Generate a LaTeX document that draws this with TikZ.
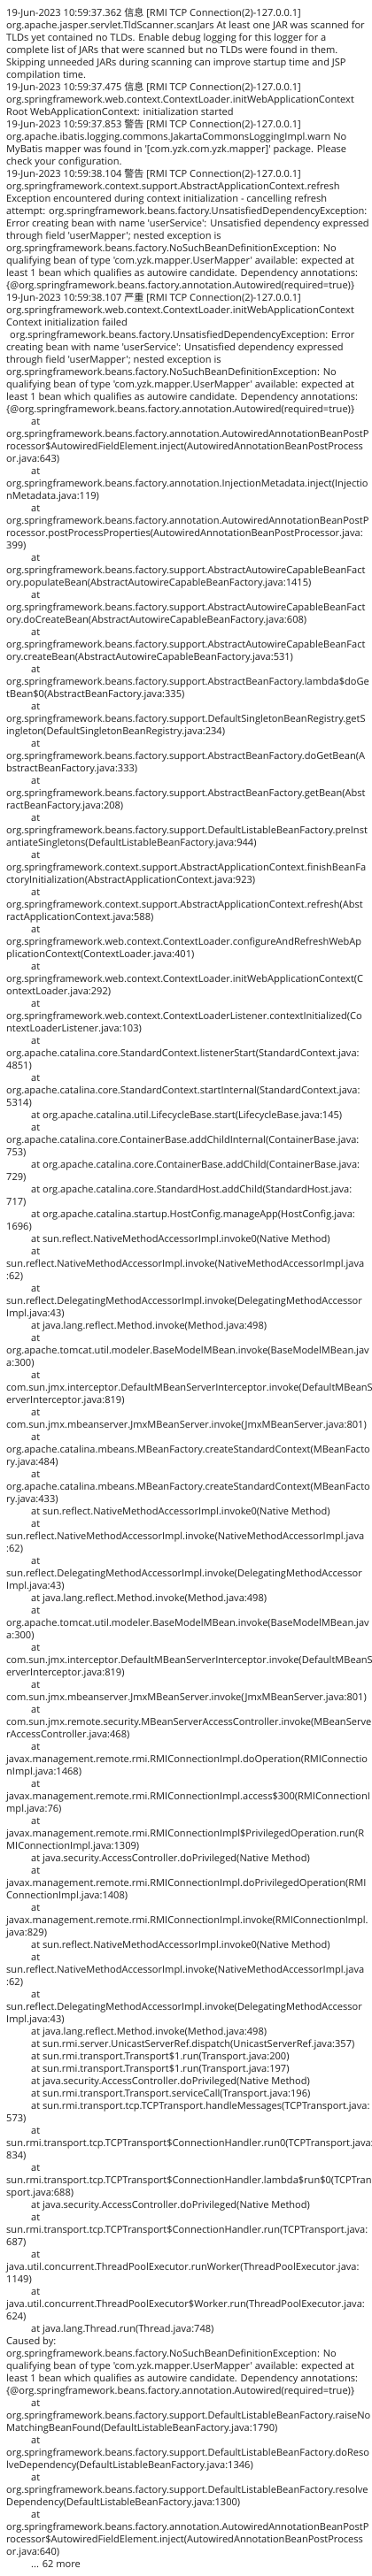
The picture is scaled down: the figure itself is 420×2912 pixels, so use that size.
\documentclass[tikz,border=0pt]{standalone}
\usepackage{fontspec}
\newfontfamily\logfont{Open Sans}
\newfontfamily\cjk{Noto Sans CJK SC}
\definecolor{logtext}{RGB}{30,30,30}
\newlength\reflen
\settowidth\reflen{\logfont\fontsize{10}{12}\selectfont org.springframework.web.context.ContextLoader.initWebApplicationContext}
\ifdim\reflen<1pt \setlength\reflen{380pt}\fi
\pgfmathsetmacro\logfs{10*392.7/\reflen}
\newcounter{logln}
\newcommand\LL[2]{\stepcounter{logln}\edef\lname{l\arabic{logln}}%
  \node[logline] (\lname) at (#1,{18.5+14*(\arabic{logln}-1)}) {#2};}
\tikzset{logline/.style={anchor=base west,inner sep=0pt,text=logtext,
  font=\logfont\fontsize{\logfs}{14}\selectfont}}
\begin{document}
\begin{tikzpicture}[x=1pt,y=-1pt]
\fill[white] (0,0) rectangle (420,2912);
\useasboundingbox (0,0) rectangle (420,2912);
\LL{7}{19-Jun-2023 10:59:37.362 {\cjk 信息} [RMI TCP Connection(2)-127.0.0.1]}
\LL{7}{org.apache.jasper.servlet.TldScanner.scanJars At least one JAR was scanned for}
\LL{7}{TLDs yet contained no TLDs. Enable debug logging for this logger for a}
\LL{7}{complete list of JARs that were scanned but no TLDs were found in them.}
\LL{7}{Skipping unneeded JARs during scanning can improve startup time and JSP}
\LL{7}{compilation time.}
\LL{7}{19-Jun-2023 10:59:37.475 {\cjk 信息} [RMI TCP Connection(2)-127.0.0.1]}
\LL{7}{org.springframework.web.context.ContextLoader.initWebApplicationContext}
\LL{7}{Root WebApplicationContext: initialization started}
\LL{7}{19-Jun-2023 10:59:37.853 {\cjk 警告} [RMI TCP Connection(2)-127.0.0.1]}
\LL{7}{org.apache.ibatis.logging.commons.JakartaCommonsLoggingImpl.warn No}
\LL{7}{MyBatis mapper was found in '[com.yzk.com.yzk.mapper]' package. Please}
\LL{7}{check your configuration.}
\LL{7}{19-Jun-2023 10:59:38.104 {\cjk 警告} [RMI TCP Connection(2)-127.0.0.1]}
\LL{7}{org.springframework.context.support.AbstractApplicationContext.refresh}
\LL{7}{Exception encountered during context initialization - cancelling refresh}
\LL{7}{attempt: org.springframework.beans.factory.UnsatisfiedDependencyException:}
\LL{7}{Error creating bean with name 'userService': Unsatisfied dependency expressed}
\LL{7}{through field 'userMapper'; nested exception is}
\LL{7}{org.springframework.beans.factory.NoSuchBeanDefinitionException: No}
\LL{7}{qualifying bean of type 'com.yzk.mapper.UserMapper' available: expected at}
\LL{7}{least 1 bean which qualifies as autowire candidate. Dependency annotations:}
\LL{7}{\{@org.springframework.beans.factory.annotation.Autowired(required=true)\}}
\LL{7}{19-Jun-2023 10:59:38.107 {\cjk 严重} [RMI TCP Connection(2)-127.0.0.1]}
\LL{7}{org.springframework.web.context.ContextLoader.initWebApplicationContext}
\LL{7}{Context initialization failed}
\LL{11}{org.springframework.beans.factory.UnsatisfiedDependencyException: Error}
\LL{7}{creating bean with name 'userService': Unsatisfied dependency expressed}
\LL{7}{through field 'userMapper'; nested exception is}
\LL{7}{org.springframework.beans.factory.NoSuchBeanDefinitionException: No}
\LL{7}{qualifying bean of type 'com.yzk.mapper.UserMapper' available: expected at}
\LL{7}{least 1 bean which qualifies as autowire candidate. Dependency annotations:}
\LL{7}{\{@org.springframework.beans.factory.annotation.Autowired(required=true)\}}
\LL{35}{at}
\LL{7}{org.springframework.beans.factory.annotation.AutowiredAnnotationBeanPostP}
\LL{7}{rocessor\$AutowiredFieldElement.inject(AutowiredAnnotationBeanPostProcess}
\LL{7}{or.java:643)}
\LL{35}{at}
\LL{7}{org.springframework.beans.factory.annotation.InjectionMetadata.inject(Injectio}
\LL{7}{nMetadata.java:119)}
\LL{35}{at}
\LL{7}{org.springframework.beans.factory.annotation.AutowiredAnnotationBeanPostP}
\LL{7}{rocessor.postProcessProperties(AutowiredAnnotationBeanPostProcessor.java:}
\LL{7}{399)}
\LL{35}{at}
\LL{7}{org.springframework.beans.factory.support.AbstractAutowireCapableBeanFact}
\LL{7}{ory.populateBean(AbstractAutowireCapableBeanFactory.java:1415)}
\LL{35}{at}
\LL{7}{org.springframework.beans.factory.support.AbstractAutowireCapableBeanFact}
\LL{7}{ory.doCreateBean(AbstractAutowireCapableBeanFactory.java:608)}
\LL{35}{at}
\LL{7}{org.springframework.beans.factory.support.AbstractAutowireCapableBeanFact}
\LL{7}{ory.createBean(AbstractAutowireCapableBeanFactory.java:531)}
\LL{35}{at}
\LL{7}{org.springframework.beans.factory.support.AbstractBeanFactory.lambda\$doGe}
\LL{7}{tBean\$0(AbstractBeanFactory.java:335)}
\LL{35}{at}
\LL{7}{org.springframework.beans.factory.support.DefaultSingletonBeanRegistry.getS}
\LL{7}{ingleton(DefaultSingletonBeanRegistry.java:234)}
\LL{35}{at}
\LL{7}{org.springframework.beans.factory.support.AbstractBeanFactory.doGetBean(A}
\LL{7}{bstractBeanFactory.java:333)}
\LL{35}{at}
\LL{7}{org.springframework.beans.factory.support.AbstractBeanFactory.getBean(Abst}
\LL{7}{ractBeanFactory.java:208)}
\LL{35}{at}
\LL{7}{org.springframework.beans.factory.support.DefaultListableBeanFactory.preInst}
\LL{7}{antiateSingletons(DefaultListableBeanFactory.java:944)}
\LL{35}{at}
\LL{7}{org.springframework.context.support.AbstractApplicationContext.finishBeanFa}
\LL{7}{ctoryInitialization(AbstractApplicationContext.java:923)}
\LL{35}{at}
\LL{7}{org.springframework.context.support.AbstractApplicationContext.refresh(Abst}
\LL{7}{ractApplicationContext.java:588)}
\LL{35}{at}
\LL{7}{org.springframework.web.context.ContextLoader.configureAndRefreshWebAp}
\LL{7}{plicationContext(ContextLoader.java:401)}
\LL{35}{at}
\LL{7}{org.springframework.web.context.ContextLoader.initWebApplicationContext(C}
\LL{7}{ontextLoader.java:292)}
\LL{35}{at}
\LL{7}{org.springframework.web.context.ContextLoaderListener.contextInitialized(Co}
\LL{7}{ntextLoaderListener.java:103)}
\LL{35}{at}
\LL{7}{org.apache.catalina.core.StandardContext.listenerStart(StandardContext.java:}
\LL{7}{4851)}
\LL{35}{at}
\LL{7}{org.apache.catalina.core.StandardContext.startInternal(StandardContext.java:}
\LL{7}{5314)}
\LL{35}{at org.apache.catalina.util.LifecycleBase.start(LifecycleBase.java:145)}
\LL{35}{at}
\LL{7}{org.apache.catalina.core.ContainerBase.addChildInternal(ContainerBase.java:}
\LL{7}{753)}
\LL{35}{at org.apache.catalina.core.ContainerBase.addChild(ContainerBase.java:}
\LL{7}{729)}
\LL{35}{at org.apache.catalina.core.StandardHost.addChild(StandardHost.java:}
\LL{7}{717)}
\LL{35}{at org.apache.catalina.startup.HostConfig.manageApp(HostConfig.java:}
\LL{7}{1696)}
\LL{35}{at sun.reflect.NativeMethodAccessorImpl.invoke0(Native Method)}
\LL{35}{at}
\LL{7}{sun.reflect.NativeMethodAccessorImpl.invoke(NativeMethodAccessorImpl.java}
\LL{7}{:62)}
\LL{35}{at}
\LL{7}{sun.reflect.DelegatingMethodAccessorImpl.invoke(DelegatingMethodAccessor}
\LL{7}{Impl.java:43)}
\LL{35}{at java.lang.reflect.Method.invoke(Method.java:498)}
\LL{35}{at}
\LL{7}{org.apache.tomcat.util.modeler.BaseModelMBean.invoke(BaseModelMBean.jav}
\LL{7}{a:300)}
\LL{35}{at}
\LL{7}{com.sun.jmx.interceptor.DefaultMBeanServerInterceptor.invoke(DefaultMBeanS}
\LL{7}{erverInterceptor.java:819)}
\LL{35}{at}
\LL{7}{com.sun.jmx.mbeanserver.JmxMBeanServer.invoke(JmxMBeanServer.java:801)}
\LL{35}{at}
\LL{7}{org.apache.catalina.mbeans.MBeanFactory.createStandardContext(MBeanFacto}
\LL{7}{ry.java:484)}
\LL{35}{at}
\LL{7}{org.apache.catalina.mbeans.MBeanFactory.createStandardContext(MBeanFacto}
\LL{7}{ry.java:433)}
\LL{35}{at sun.reflect.NativeMethodAccessorImpl.invoke0(Native Method)}
\LL{35}{at}
\LL{7}{sun.reflect.NativeMethodAccessorImpl.invoke(NativeMethodAccessorImpl.java}
\LL{7}{:62)}
\LL{35}{at}
\LL{7}{sun.reflect.DelegatingMethodAccessorImpl.invoke(DelegatingMethodAccessor}
\LL{7}{Impl.java:43)}
\LL{35}{at java.lang.reflect.Method.invoke(Method.java:498)}
\LL{35}{at}
\LL{7}{org.apache.tomcat.util.modeler.BaseModelMBean.invoke(BaseModelMBean.jav}
\LL{7}{a:300)}
\LL{35}{at}
\LL{7}{com.sun.jmx.interceptor.DefaultMBeanServerInterceptor.invoke(DefaultMBeanS}
\LL{7}{erverInterceptor.java:819)}
\LL{35}{at}
\LL{7}{com.sun.jmx.mbeanserver.JmxMBeanServer.invoke(JmxMBeanServer.java:801)}
\LL{35}{at}
\LL{7}{com.sun.jmx.remote.security.MBeanServerAccessController.invoke(MBeanServe}
\LL{7}{rAccessController.java:468)}
\LL{35}{at}
\LL{7}{javax.management.remote.rmi.RMIConnectionImpl.doOperation(RMIConnectio}
\LL{7}{nImpl.java:1468)}
\LL{35}{at}
\LL{7}{javax.management.remote.rmi.RMIConnectionImpl.access\$300(RMIConnectionI}
\LL{7}{mpl.java:76)}
\LL{35}{at}
\LL{7}{javax.management.remote.rmi.RMIConnectionImpl\$PrivilegedOperation.run(R}
\LL{7}{MIConnectionImpl.java:1309)}
\LL{35}{at java.security.AccessController.doPrivileged(Native Method)}
\LL{35}{at}
\LL{7}{javax.management.remote.rmi.RMIConnectionImpl.doPrivilegedOperation(RMI}
\LL{7}{ConnectionImpl.java:1408)}
\LL{35}{at}
\LL{7}{javax.management.remote.rmi.RMIConnectionImpl.invoke(RMIConnectionImpl.}
\LL{7}{java:829)}
\LL{35}{at sun.reflect.NativeMethodAccessorImpl.invoke0(Native Method)}
\LL{35}{at}
\LL{7}{sun.reflect.NativeMethodAccessorImpl.invoke(NativeMethodAccessorImpl.java}
\LL{7}{:62)}
\LL{35}{at}
\LL{7}{sun.reflect.DelegatingMethodAccessorImpl.invoke(DelegatingMethodAccessor}
\LL{7}{Impl.java:43)}
\LL{35}{at java.lang.reflect.Method.invoke(Method.java:498)}
\LL{35}{at sun.rmi.server.UnicastServerRef.dispatch(UnicastServerRef.java:357)}
\LL{35}{at sun.rmi.transport.Transport\$1.run(Transport.java:200)}
\LL{35}{at sun.rmi.transport.Transport\$1.run(Transport.java:197)}
\LL{35}{at java.security.AccessController.doPrivileged(Native Method)}
\LL{35}{at sun.rmi.transport.Transport.serviceCall(Transport.java:196)}
\LL{35}{at sun.rmi.transport.tcp.TCPTransport.handleMessages(TCPTransport.java:}
\LL{7}{573)}
\LL{35}{at}
\LL{7}{sun.rmi.transport.tcp.TCPTransport\$ConnectionHandler.run0(TCPTransport.java:}
\LL{7}{834)}
\LL{35}{at}
\LL{7}{sun.rmi.transport.tcp.TCPTransport\$ConnectionHandler.lambda\$run\$0(TCPTran}
\LL{7}{sport.java:688)}
\LL{35}{at java.security.AccessController.doPrivileged(Native Method)}
\LL{35}{at}
\LL{7}{sun.rmi.transport.tcp.TCPTransport\$ConnectionHandler.run(TCPTransport.java:}
\LL{7}{687)}
\LL{35}{at}
\LL{7}{java.util.concurrent.ThreadPoolExecutor.runWorker(ThreadPoolExecutor.java:}
\LL{7}{1149)}
\LL{35}{at}
\LL{7}{java.util.concurrent.ThreadPoolExecutor\$Worker.run(ThreadPoolExecutor.java:}
\LL{7}{624)}
\LL{35}{at java.lang.Thread.run(Thread.java:748)}
\LL{7}{Caused by:}
\LL{7}{org.springframework.beans.factory.NoSuchBeanDefinitionException: No}
\LL{7}{qualifying bean of type 'com.yzk.mapper.UserMapper' available: expected at}
\LL{7}{least 1 bean which qualifies as autowire candidate. Dependency annotations:}
\LL{7}{\{@org.springframework.beans.factory.annotation.Autowired(required=true)\}}
\LL{35}{at}
\LL{7}{org.springframework.beans.factory.support.DefaultListableBeanFactory.raiseNo}
\LL{7}{MatchingBeanFound(DefaultListableBeanFactory.java:1790)}
\LL{35}{at}
\LL{7}{org.springframework.beans.factory.support.DefaultListableBeanFactory.doReso}
\LL{7}{lveDependency(DefaultListableBeanFactory.java:1346)}
\LL{35}{at}
\LL{7}{org.springframework.beans.factory.support.DefaultListableBeanFactory.resolve}
\LL{7}{Dependency(DefaultListableBeanFactory.java:1300)}
\LL{35}{at}
\LL{7}{org.springframework.beans.factory.annotation.AutowiredAnnotationBeanPostP}
\LL{7}{rocessor\$AutowiredFieldElement.inject(AutowiredAnnotationBeanPostProcess}
\LL{7}{or.java:640)}
\LL{35}{... 62 more}
\end{tikzpicture}
\end{document}
